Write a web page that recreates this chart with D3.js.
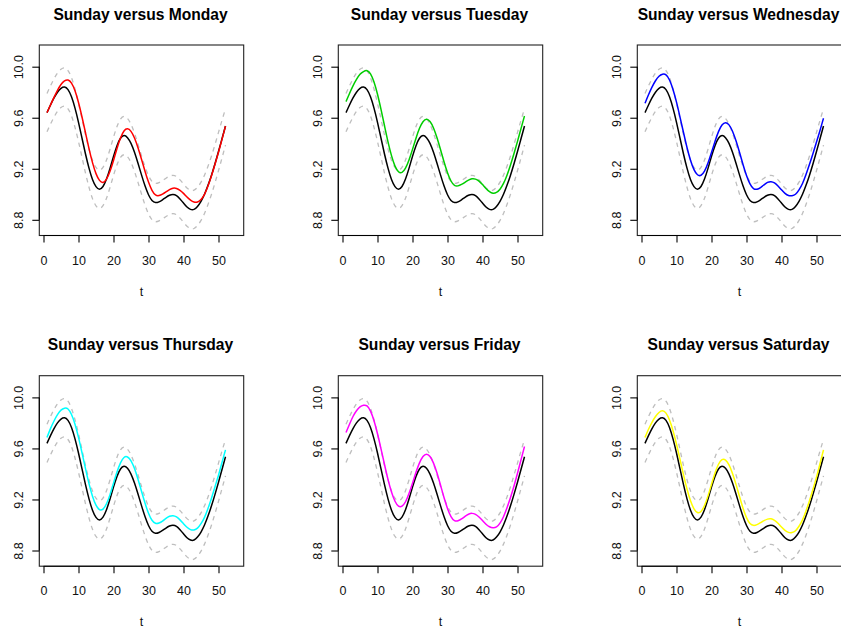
<!DOCTYPE html>
<html>
<head>
<meta charset="utf-8">
<script src="https://cdn.jsdelivr.net/npm/d3@7"></script>
<style>
  html, body { margin: 0; padding: 0; background: #ffffff; }
  svg { display: block; font-family: "Liberation Sans", Arial, Helvetica, sans-serif; }
</style>
</head>
<body>
<svg id="chart" width="841" height="628"></svg>
<script>
// Weekly index t = 1..52
const weeks = d3.range(1, 53);

// Sunday reference curve and its dashed confidence limits
const sunday = [9.64, 9.70, 9.755, 9.80, 9.83, 9.84, 9.82, 9.764, 9.675, 9.564,
  9.44, 9.316, 9.205, 9.116, 9.06, 9.04, 9.061, 9.119, 9.203, 9.297,
  9.381, 9.439, 9.46, 9.444, 9.399, 9.329, 9.243, 9.152, 9.066, 8.996,
  8.951, 8.935, 8.941, 8.957, 8.976, 8.992, 8.998, 8.989, 8.963, 8.931,
  8.90, 8.882, 8.882, 8.905, 8.945, 9.0, 9.07, 9.15, 9.24, 9.335,
  9.435, 9.535];
const upperBand = [9.79, 9.85, 9.905, 9.95, 9.98, 9.99, 9.97, 9.914, 9.825, 9.714,
  9.59, 9.466, 9.355, 9.266, 9.21, 9.19, 9.211, 9.269, 9.353, 9.447,
  9.531, 9.589, 9.61, 9.594, 9.549, 9.479, 9.393, 9.302, 9.216, 9.146,
  9.101, 9.085, 9.091, 9.107, 9.126, 9.142, 9.148, 9.139, 9.113, 9.081,
  9.05, 9.032, 9.032, 9.055, 9.095, 9.15, 9.22, 9.30, 9.39, 9.485,
  9.58, 9.67];
const lowerBand = [9.49, 9.55, 9.605, 9.65, 9.68, 9.69, 9.67, 9.614, 9.525, 9.414,
  9.29, 9.166, 9.055, 8.966, 8.91, 8.89, 8.911, 8.969, 9.053, 9.147,
  9.231, 9.289, 9.31, 9.294, 9.249, 9.179, 9.093, 9.002, 8.916, 8.846,
  8.801, 8.785, 8.791, 8.807, 8.826, 8.842, 8.848, 8.839, 8.813, 8.781,
  8.75, 8.732, 8.732, 8.755, 8.795, 8.85, 8.92, 9.0, 9.09, 9.185,
  9.285, 9.385];

// Weekday curves compared against Sunday
const monday = [9.64, 9.70, 9.76, 9.815, 9.86, 9.888, 9.895, 9.871, 9.811, 9.719,
  9.606, 9.482, 9.358, 9.248, 9.162, 9.109, 9.093, 9.118, 9.18, 9.265,
  9.359, 9.441, 9.496, 9.513, 9.493, 9.441, 9.365, 9.275, 9.181, 9.096,
  9.031, 8.995, 8.99, 9.001, 9.019, 9.037, 9.048, 9.046, 9.031, 9.007,
  8.978, 8.954, 8.939, 8.94, 8.96, 9.0, 9.065, 9.145, 9.235, 9.33,
  9.43, 9.534];
const tuesday = [9.726, 9.79, 9.85, 9.9, 9.94, 9.962, 9.969, 9.944, 9.88, 9.784,
  9.665, 9.537, 9.411, 9.303, 9.221, 9.177, 9.172, 9.205, 9.269, 9.352,
  9.44, 9.517, 9.569, 9.588, 9.57, 9.52, 9.443, 9.351, 9.255, 9.169,
  9.104, 9.07, 9.066, 9.077, 9.094, 9.111, 9.121, 9.119, 9.103, 9.076,
  9.046, 9.021, 9.009, 9.015, 9.04, 9.085, 9.15, 9.23, 9.32, 9.415,
  9.515, 9.614];
const wednesday = [9.713, 9.78, 9.84, 9.89, 9.925, 9.941, 9.936, 9.896, 9.822, 9.722,
  9.605, 9.484, 9.367, 9.267, 9.193, 9.153, 9.149, 9.181, 9.245, 9.327,
  9.414, 9.491, 9.543, 9.561, 9.544, 9.494, 9.419, 9.329, 9.234, 9.148,
  9.082, 9.045, 9.04, 9.053, 9.074, 9.093, 9.099, 9.089, 9.065, 9.035,
  9.007, 8.99, 8.989, 9.0, 9.035, 9.085, 9.155, 9.235, 9.32, 9.41,
  9.5, 9.596];
const thursday = [9.686, 9.755, 9.815, 9.865, 9.9, 9.915, 9.909, 9.866, 9.79, 9.687,
  9.566, 9.442, 9.324, 9.225, 9.155, 9.12, 9.124, 9.166, 9.238, 9.327,
  9.415, 9.487, 9.529, 9.533, 9.502, 9.442, 9.358, 9.264, 9.172, 9.092,
  9.037, 9.013, 9.016, 9.031, 9.052, 9.068, 9.073, 9.063, 9.04, 9.01,
  8.982, 8.964, 8.961, 8.975, 9.01, 9.06, 9.13, 9.21, 9.3, 9.39,
  9.49, 9.589];
const friday = [9.725, 9.79, 9.85, 9.895, 9.925, 9.938, 9.933, 9.892, 9.817, 9.715,
  9.597, 9.474, 9.357, 9.258, 9.186, 9.148, 9.148, 9.182, 9.246, 9.327,
  9.413, 9.487, 9.537, 9.555, 9.537, 9.485, 9.407, 9.313, 9.216, 9.13,
  9.066, 9.034, 9.033, 9.047, 9.067, 9.084, 9.091, 9.083, 9.063, 9.035,
  9.006, 8.986, 8.978, 8.985, 9.015, 9.065, 9.135, 9.215, 9.305, 9.405,
  9.51, 9.615];
const saturday = [9.686, 9.75, 9.805, 9.85, 9.882, 9.895, 9.877, 9.823, 9.739, 9.633,
  9.514, 9.393, 9.282, 9.19, 9.127, 9.098, 9.106, 9.153, 9.228, 9.319,
  9.408, 9.476, 9.512, 9.509, 9.471, 9.404, 9.318, 9.223, 9.132, 9.058,
  9.011, 8.997, 9.003, 9.018, 9.034, 9.046, 9.048, 9.036, 9.013, 8.984,
  8.958, 8.942, 8.941, 8.955, 8.99, 9.04, 9.11, 9.19, 9.28, 9.375,
  9.48, 9.589];

const panelTitles = ["Sunday versus Monday", "Sunday versus Tuesday", "Sunday versus Wednesday",
  "Sunday versus Thursday", "Sunday versus Friday", "Sunday versus Saturday"];
const panelSeries = [monday, tuesday, wednesday, thursday, friday, saturday];
const panelColors = ["#FF0000", "#00CD00", "#0000FF", "#00FFFF", "#FF00FF", "#FFFF00"];

const xTicks = [0, 10, 20, 30, 40, 50];
const yTicks = [8.8, 9.2, 9.6, 10.0];
const xLabel = "t";

// Layout of the 2 x 3 grid of plot regions
const colLeft = [39.3, 338.3, 637.3];
const rowTop = [45, 375.7];
const plotW = 204.4, plotH = 190.5;

const x = d3.scaleLinear().domain([-1.2, 57.2]).range([0, plotW]);
const y = d3.scaleLinear().domain([8.677, 10.170]).range([plotH, 0]);

const line = d3.line()
  .x((d, i) => x(weeks[i]))
  .y(d => y(d))
  .curve(d3.curveNatural);

const svg = d3.select("#chart");
const labelFont = "12.5px";

panelSeries.forEach((series, k) => {
  const col = k % 3, row = Math.floor(k / 3);
  const g = svg.append("g")
    .attr("transform", `translate(${colLeft[col]},${rowTop[row]})`);

  // Title
  g.append("text")
    .attr("x", plotW / 2 - 1)
    .attr("y", -25.3)
    .attr("text-anchor", "middle")
    .style("font-size", "15.6px")
    .style("font-weight", "bold")
    .attr("fill", "#000")
    .text(panelTitles[k]);

  // Curves: dashed limits, Sunday, then the weekday
  [upperBand, lowerBand].forEach(band => {
    g.append("path")
      .attr("d", line(band))
      .attr("fill", "none")
      .attr("stroke", "#BEBEBE")
      .attr("stroke-width", 1.3)
      .attr("stroke-dasharray", "4.5,4.5");
  });
  g.append("path")
    .attr("d", line(sunday))
    .attr("fill", "none")
    .attr("stroke", "#000")
    .attr("stroke-width", 1.5);
  g.append("path")
    .attr("d", line(series))
    .attr("fill", "none")
    .attr("stroke", panelColors[k])
    .attr("stroke-width", 1.5);

  // Plot frame
  g.append("rect")
    .attr("x", 0).attr("y", 0)
    .attr("width", plotW).attr("height", plotH)
    .attr("fill", "none")
    .attr("stroke", "#222")
    .attr("stroke-width", 1.1);

  // Bottom axis
  const ax = g.append("g")
    .attr("transform", `translate(0,${plotH})`)
    .call(d3.axisBottom(x).tickValues(xTicks).tickSize(7).tickFormat(d3.format("d")));
  ax.select(".domain").remove();
  ax.append("line")
    .attr("x1", x(xTicks[0])).attr("x2", x(xTicks[xTicks.length - 1]))
    .attr("stroke", "#000").attr("stroke-width", 1.1);
  ax.selectAll(".tick line").attr("stroke", "#000").attr("stroke-width", 1.1);
  ax.selectAll(".tick text")
    .attr("y", 29).attr("dy", 0)
    .attr("fill", "#111")
    .style("font-size", labelFont)
    .style("font-family", "'Liberation Sans', Arial, sans-serif");

  // Left axis with rotated labels
  const ay = g.append("g")
    .call(d3.axisLeft(y).tickValues(yTicks).tickSize(7).tickFormat(d3.format(".1f")));
  ay.select(".domain").remove();
  ay.append("line")
    .attr("y1", y(yTicks[0])).attr("y2", y(yTicks[yTicks.length - 1]))
    .attr("stroke", "#000").attr("stroke-width", 1.1);
  ay.selectAll(".tick line").attr("stroke", "#000").attr("stroke-width", 1.1);
  ay.selectAll(".tick text")
    .attr("x", 0).attr("y", 0).attr("dy", 0)
    .attr("transform", "translate(-16.5,0) rotate(-90)")
    .attr("text-anchor", "middle")
    .attr("fill", "#111")
    .style("font-size", labelFont)
    .style("font-family", "'Liberation Sans', Arial, sans-serif");

  // Axis title
  g.append("text")
    .attr("x", plotW / 2)
    .attr("y", plotH + 60)
    .attr("text-anchor", "middle")
    .style("font-size", labelFont)
    .attr("fill", "#111")
    .text(xLabel);
});
</script>
</body>
</html>
